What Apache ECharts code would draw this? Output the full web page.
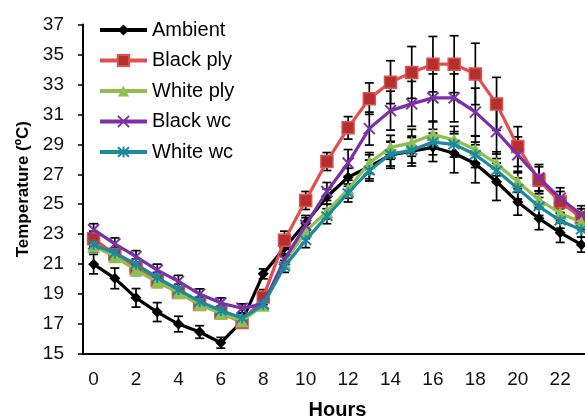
<!DOCTYPE html>
<html><head><meta charset="utf-8">
<script src="https://cdn.jsdelivr.net/npm/echarts@6/dist/echarts.min.js"></script>
<style>html,body{margin:0;padding:0;background:#fff}#c{width:585px;height:419px}</style>
</head><body><div id="c"></div>
<script>
const hours = ['0','1','2','3','4','5','6','7','8','9','10','11','12','13','14','15','16','17','18','19','20','21','22','23'];
const yTicks = [15,17,19,21,23,25,27,29,31,33,35,37];
const ambient  = [21.0,20.05,18.75,17.8,17.0,16.47,15.75,17.2,20.35,22.1,23.75,25.5,26.8,27.5,28.3,28.55,28.8,28.4,27.7,26.5,25.15,24.05,23.1,22.3];
const blackPly = [22.7,21.65,20.75,19.9,19.1,18.3,17.75,17.1,18.8,22.6,25.25,27.85,30.1,32.05,33.15,33.8,34.35,34.35,33.7,31.7,28.85,26.6,25.15,24.1];
const whitePly = [22.2,21.5,20.6,19.8,19.1,18.3,17.7,17.2,18.25,21.1,23.2,24.5,26.0,27.75,28.8,29.1,29.65,29.3,28.65,27.7,26.5,25.3,24.4,23.8];
const blackWc  = [23.3,22.35,21.5,20.6,19.85,19.0,18.4,18.05,18.35,21.3,23.6,25.85,27.75,30.05,31.25,31.7,32.1,32.1,31.15,29.85,28.3,26.75,25.4,24.3];
const whiteWc  = [22.3,21.75,21.0,20.1,19.3,18.5,17.9,17.4,18.3,20.85,22.6,24.2,25.75,27.25,28.35,28.6,29.15,29.0,28.3,27.25,26.05,24.85,23.9,23.3];
const errAmbient  = [0.65,0.69,0.62,0.63,0.52,0.42,0.36,0.3,0.33,0.5,0.5,0.5,0.6,0.8,0.9,1.0,0.95,1.3,1.27,1.25,0.88,0.75,0.65,0.5];
const errBlackPly = [0.5,0.4,0.4,0.4,0.35,0.3,0.3,0.3,0.5,0.6,0.6,0.6,0.75,1.05,1.43,1.73,1.85,1.9,2.05,1.77,1.33,0.9,0.7,0.6];
const errWhitePly = [0.4,0.35,0.35,0.35,0.35,0.3,0.3,0.3,0.3,0.4,0.5,0.5,0.6,0.7,0.8,0.9,0.9,0.9,0.9,0.8,0.7,0.6,0.5,0.5];
const errBlackWc  = [0.4,0.4,0.4,0.4,0.4,0.35,0.35,0.3,0.3,0.4,0.5,0.6,0.9,1.1,1.3,1.5,1.6,1.6,1.6,1.5,1.2,0.9,0.7,0.6];
const errWhiteWc  = [0.4,0.35,0.35,0.35,0.35,0.3,0.3,0.3,0.3,0.4,0.5,0.5,0.6,0.7,0.8,0.85,0.85,0.85,0.85,0.8,0.7,0.6,0.5,0.5];

const names = ['Ambient','Black ply','White ply','Black wc','White wc'];
const values = [ambient, blackPly, whitePly, blackWc, whiteWc];
const errs = [errAmbient, errBlackPly, errWhitePly, errBlackWc, errWhiteWc];
const colors = ['#000000','#e0504c','#8fbf50','#7b30a8','#1a8b9e'];
const markerFill = ['#000000','#b3302f','#8fbf50','#7b30a8','#1a8b9e'];
const symbols = ['diamond','rect','triangle','path://M0,0L10,10M10,0L0,10','path://M0,0L10,10M10,0L0,10M5,-1L5,11'];
const sizes = [11,12,13,11,11];

const chart = echarts.init(document.getElementById('c'));
const font = 'Liberation Sans, Arial, sans-serif';

const series = [];
values.forEach((v, si) => {
  series.push({
    type: 'custom',
    name: names[si] + ' err',
    z: 1,
    silent: true,
    data: v.map((y, i) => [i, y - errs[si][i], y + errs[si][i]]),
    renderItem: function (params, api) {
      const lo = api.coord([api.value(0), api.value(1)]);
      const hi = api.coord([api.value(0), api.value(2)]);
      const w = 4.5;
      const st = {stroke: '#000', lineWidth: 1.7};
      return {type: 'group', children: [
        {type: 'line', shape: {x1: lo[0], y1: lo[1], x2: hi[0], y2: hi[1]}, style: st},
        {type: 'line', shape: {x1: lo[0]-w, y1: lo[1], x2: lo[0]+w, y2: lo[1]}, style: st},
        {type: 'line', shape: {x1: hi[0]-w, y1: hi[1], x2: hi[0]+w, y2: hi[1]}, style: st}
      ]};
    }
  });
});
values.forEach((v, si) => {
  const isPath = si >= 3;
  series.push({
    type: 'line',
    name: names[si],
    z: 3 + si,
    data: v,
    symbol: symbols[si],
    symbolSize: sizes[si],
    showAllSymbol: true,
    lineStyle: {color: colors[si], width: 3.2},
    itemStyle: isPath ? {color: colors[si], borderColor: colors[si], borderWidth: 2}
                      : {color: markerFill[si], borderColor: colors[si], borderWidth: si === 1 ? 1.5 : 0},
    emphasis: {disabled: true},
    animation: false
  });
});

chart.setOption({
  animation: false,
  backgroundColor: '#fff',
  grid: {left: 83, right: -7, top: 24.5, bottom: 65, outerBoundsMode: 'none', containLabel: false},
  legend: {
    data: names,
    orient: 'vertical',
    left: 98, top: 20,
    padding: 0,
    itemWidth: 47, itemHeight: 14, itemGap: 10.5,
    lineStyle: {width: 4},
    textStyle: {fontFamily: font, fontSize: 20, color: '#000', lineHeight: 20},
    selectedMode: false
  },
  xAxis: {
    type: 'category',
    data: hours,
    boundaryGap: true,
    name: 'Hours',
    nameLocation: 'middle',
    nameGap: 46,
    nameTextStyle: {fontFamily: font, fontSize: 20, fontWeight: 'bold', color: '#000'},
    axisLine: {lineStyle: {color: '#000', width: 2}},
    axisTick: {interval: 0, length: 5, lineStyle: {color: '#000', width: 1.5}},
    axisLabel: {interval: 1, fontFamily: font, fontSize: 19, color: '#111', margin: 16},
    splitLine: {show: false}
  },
  yAxis: {
    type: 'value',
    min: 15, max: 37, interval: 2,
    name: 'Temperature (ºC)',
    nameLocation: 'middle',
    nameGap: 51,
    nameRotate: 90,
    nameTextStyle: {fontFamily: font, fontSize: 17, fontWeight: 'bold', color: '#000'},
    axisLine: {show: true, lineStyle: {color: '#000', width: 2}},
    axisTick: {show: true, length: 5, lineStyle: {color: '#000', width: 1.5}},
    axisLabel: {fontFamily: font, fontSize: 19, color: '#111', margin: 19},
    splitLine: {show: false}
  },
  series: series
});
</script>
</body></html>
